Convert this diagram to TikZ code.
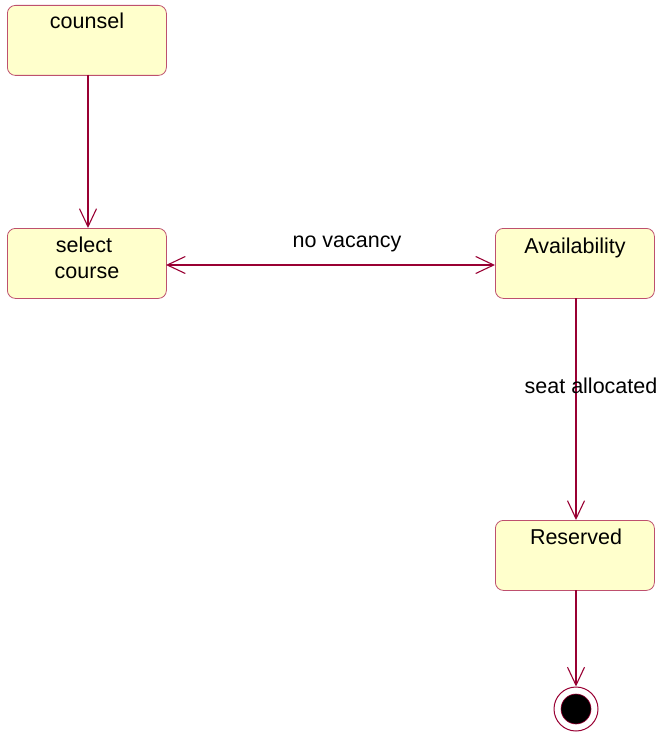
\documentclass[tikz,border=0pt]{standalone}
\usepackage{fontspec}
\setmainfont{Liberation Sans}
\usetikzlibrary{arrows.meta}
\definecolor{boxfill}{RGB}{255,255,204}
\definecolor{boxline}{RGB}{190,80,110}
\definecolor{arrowcol}{RGB}{153,0,51}
\tikzset{
  statebox/.style={draw=boxline, fill=boxfill, rounded corners=8pt, line width=0.8pt,
    minimum width=159pt, minimum height=70pt, inner sep=0pt, anchor=north west},
  lbl/.style={font=\fontsize{21.5}{24}\selectfont, inner sep=0pt, anchor=base},
  trans/.style={draw=arrowcol, line width=1.1pt, -{Straight Barb[length=18pt,width=17pt,line width=1.1pt]}},
  dtrans/.style={draw=arrowcol, line width=1.1pt, {Straight Barb[length=18pt,width=17pt,line width=1.1pt]}-{Straight Barb[length=18pt,width=17pt,line width=1.1pt]}}
}
\begin{document}
\begin{tikzpicture}[x=1pt,y=-1pt]
\useasboundingbox (0,0) rectangle (664,733);
\node[statebox] (counsel) at (7,5) {};
\node[statebox] (select) at (7,228) {};
\node[statebox] (avail) at (495,228) {};
\node[statebox] (reserved) at (495,520) {};
\node[lbl] (tcounsel) at (87,29) {counsel};
\node[lbl] (tselect) at (84,252) {select};
\node[lbl] (tcourse) at (87,278) {course};
\node[lbl] (tavail) at (575,253) {Availability};
\node[lbl] (treserved) at (576,544) {Reserved};
\node[draw=arrowcol, fill=white, line width=1pt, circle, minimum size=44pt, inner sep=0pt] (final) at (576,709) {};
\node[draw=arrowcol, fill=black, line width=0.6pt, circle, minimum size=30pt, inner sep=0pt] (finalin) at (576,709) {};
\coordinate (c1) at (88,75);
\coordinate (c2) at (88,228);
\draw[trans] (c1) -- (c2);
\coordinate (s1) at (166,265);
\coordinate (a1) at (495,265);
\draw[dtrans] (s1) -- (a1);
\node[lbl] (tnov) at (347,247) {no vacancy};
\coordinate (a2) at (576,298);
\coordinate (r1) at (576,520);
\draw[trans] (a2) -- (r1);
\node[lbl] (tseat) at (591,393) {seat allocated};
\coordinate (r2) at (576,590);
\draw[trans] (r2) -- (final.north);
\end{tikzpicture}
\end{document}
